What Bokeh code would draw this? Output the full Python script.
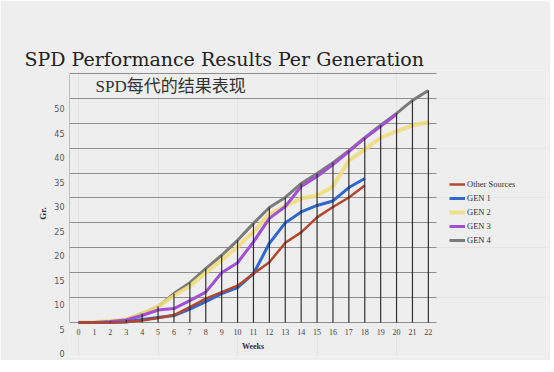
from bokeh.plotting import figure
from bokeh.models import Range1d, LinearAxis, FixedTicker, Grid, Legend, LegendItem, Label
from bokeh.embed import file_html
from bokeh.resources import INLINE

# ---- data ----
weeks = list(range(23))
x_ticks = list(range(0, 23))
y_tick_labels = list(range(0, 51, 5))
grid_values = list(range(5, 56, 5))
BASE = 5  # floor of the chart (baseline)

other_sources = [5.0, 5.0, 5.0, 5.1, 5.4, 5.9, 6.5, 8.1, 9.8, 11.1, 12.4, 14.8,
                 17.1, 21.0, 23.1, 26.1, 28.2, 30.1, 32.5]
gen1 = [5.0, 5.0, 5.0, 5.1, 5.6, 6.0, 6.4, 7.7, 9.2, 10.8, 12.0, 14.8,
        20.9, 25.0, 27.2, 28.5, 29.4, 32.1, 33.9]
gen2 = [5.0, 5.1, 5.3, 5.6, 6.8, 8.2, 10.4, 12.3, 15.0, 17.5, 20.2, 23.2,
        26.8, 28.4, 29.9, 30.5, 32.3, 37.5, 39.7, 42.1, 43.4, 44.6, 45.2]
gen3 = [5.0, 5.0, 5.2, 5.5, 6.4, 7.5, 7.8, 9.4, 11.1, 15.0, 17.0, 21.2,
        25.9, 28.3, 32.3, 34.3, 36.7, 39.3, 42.0, 44.4, 46.8]
gen4 = [5.0, 5.0, 5.2, 5.6, 6.8, 8.2, 10.8, 13.0, 15.8, 18.5, 21.5, 24.9,
        28.1, 30.1, 32.9, 34.9, 37.1, 39.5, 42.1, 44.6, 47.0, 49.6, 51.6]

series_names = ["Other Sources", "GEN 1", "GEN 2", "GEN 3", "GEN 4"]
series_colors = ["#b3472c", "#2f67cf", "#f1db7c", "#a24fd6", "#7b7b7b"]

BG = "#eeeeee"
X0, XG, X1 = -0.57, 22.52, 29.43   # frame start, end of grid area, frame end

p = figure(frame_width=477, frame_height=286,
           x_range=Range1d(X0, X1), y_range=Range1d(-1.83, 55.6),
           output_backend="svg", toolbar_location=None,
           x_axis_location=None, y_axis_location=None,
           min_border_left=69, min_border_top=70, min_border_right=4, min_border_bottom=4,
           background_fill_color=BG, border_fill_color=BG, outline_line_color=None)
p.extra_y_ranges = {"lab": Range1d(-0.61, 57.76)}

# horizontal grid lines, limited to the plotting area of weeks 0-22
hgrid = Grid(dimension=1, ticker=FixedTicker(ticks=grid_values), cross_bounds=(X0, XG),
             grid_line_color="#8e8e8e", grid_line_width=1)
p.add_layout(hgrid)

# y axis with labels
yax = LinearAxis(y_range_name="lab", ticker=FixedTicker(ticks=y_tick_labels),
                 axis_label="Gr.", axis_line_color=None,
                 major_tick_line_color=None, minor_tick_line_color=None,
                 major_tick_out=0, major_tick_in=0, major_label_standoff=5,
                 major_label_text_font="DejaVu Sans",
                 major_label_text_font_size="8px", major_label_text_color="#555555",
                 axis_label_text_font="Liberation Serif",
                 axis_label_text_font_size="9px", axis_label_text_font_style="bold",
                 axis_label_text_color="#333333", axis_label_standoff=3)
p.add_layout(yax, "left")

# y axis line
yline = LinearAxis(fixed_location=X0, bounds=(grid_values[0], grid_values[-1]),
                   ticker=FixedTicker(ticks=[]), major_label_text_font_size="0px",
                   major_tick_line_color=None, minor_tick_line_color=None,
                   axis_line_color="#8e8e8e", axis_line_width=1)
p.add_layout(yline, "left")

# x axis at the baseline
xax = LinearAxis(fixed_location=BASE, bounds=(X0, XG), ticker=FixedTicker(ticks=x_ticks),
                 axis_label="Weeks", axis_line_color=None,
                 major_tick_line_color=None, minor_tick_line_color=None,
                 major_tick_out=0, major_tick_in=0, major_label_standoff=7,
                 major_label_text_font="Liberation Serif",
                 major_label_text_font_size="8px", major_label_text_color="#444444",
                 axis_label_text_font="Liberation Serif",
                 axis_label_text_font_size="8px", axis_label_text_font_style="bold",
                 axis_label_text_color="#333333", axis_label_standoff=3)
p.add_layout(xax, "below")

# lines
data = [other_sources, gen1, gen2, gen3, gen4]
widths = [2.5, 3, 4, 3, 3]
alphas = [1, 1, 0.9, 1, 1]
renderers = {}
for i in [4, 2, 3, 1, 0]:
    ys = data[i]
    renderers[i] = p.line(weeks[:len(ys)], ys, line_color=series_colors[i],
                          line_width=widths[i], line_alpha=alphas[i])

# drop lines from GEN 4 to the baseline
p.segment(x0=weeks, y0=[BASE] * len(weeks), x1=weeks, y1=gen4,
          line_color="#1e1e1e", line_width=1.2, line_alpha=0.9)

legend = Legend(items=[LegendItem(label=series_names[i], renderers=[renderers[i]]) for i in range(5)],
                location=(380, 110), margin=0, padding=8, spacing=2,
                glyph_width=16, glyph_height=12, label_height=12, label_standoff=2,
                label_text_font="Liberation Serif", label_text_font_size="8.5px",
                label_text_color="#333333", border_line_color=None,
                background_fill_alpha=0)
p.add_layout(legend)

# titles
p.title.text = "SPD Performance Results Per Generation"
p.title.text_font = "DejaVu Serif"
p.title.text_font_size = "19px"
p.title.text_font_style = "normal"
p.title.text_color = "#222222"
p.title.align = "left"
p.title.offset = -45
p.title.standoff = 2

sub = Label(x=1.07, y=52.4, text="SPD每代的结果表现", text_baseline="middle",
            text_font="Liberation Serif, Noto Sans CJK SC", text_font_size="17px",
            text_color="#333333")
p.add_layout(sub)

open("out.html", "w").write(file_html(p, INLINE))
